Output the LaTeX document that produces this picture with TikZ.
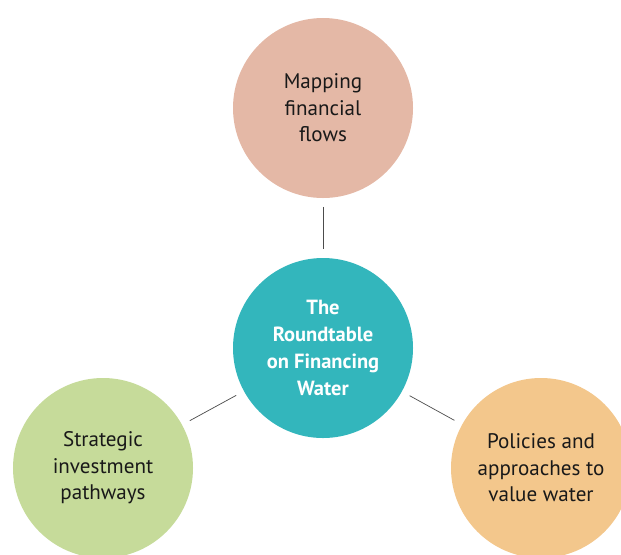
\documentclass[tikz,border=0pt]{standalone}
\usepackage{fontspec}
\setmainfont{PT Sans}
\usepackage{tikz}

\definecolor{flowsC}{HTML}{E4B8A6}
\definecolor{hubC}{HTML}{33B6BC}
\definecolor{pathC}{HTML}{C6DB9A}
\definecolor{valueC}{HTML}{F3C78C}

\begin{document}
\begin{tikzpicture}[x=0.03cm, y=-0.03cm]
    % --- DEFINE STYLES ---
    % Style for the outer topic circles
    \tikzstyle{topic_c} = [circle, draw=none, inner sep=0pt, minimum size=5.4cm, align=center,
        font=\fontsize{18}{22.5}\selectfont, text=black!90]
    % Style for the central circle
    \tikzstyle{hub_c} = [topic_c, fill=hubC, text=white, font=\fontsize{17.5}{22.8}\selectfont\bfseries]
    % Style for the links
    \tikzstyle{link} = [black!70, line width=0.6pt, shorten <=0.26cm, shorten >=0.26cm]

    \useasboundingbox (0,0) rectangle (621,554);
    \clip (0,0) rectangle (621,554);

    % Circles
    \node[hub_c] (hub) at (323,348) {The\\Roundtable\\on Financing\\Water};
    \node[topic_c, fill=flowsC] (flows) at (323,108) {Mapping\\financial\\flows};
    \node[topic_c, fill=pathC] (paths) at (103,468) {Strategic\\investment\\pathways};
    \node[topic_c, fill=valueC] (value) at (541,468) {Policies and\\approaches to\\value water};

    % Links
    \draw[link] (flows) -- (hub);
    \draw[link] (paths) -- (hub);
    \draw[link] (value) -- (hub);
\end{tikzpicture}
\end{document}
